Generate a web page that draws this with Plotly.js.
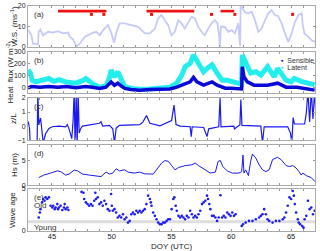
<!DOCTYPE html>
<html><head><meta charset="utf-8">
<script src="https://cdn.plot.ly/plotly-3.0.1.min.js"></script>
<style>html,body{margin:0;padding:0;background:#fff}#c{width:320px;height:251px}</style>
</head><body><div id="c"></div>
<script>
// ---- (a) wind speed ----
var wsDay = [43.06,43.28,43.42,43.61,43.84,43.89,44.03,44.26,44.67,45.09,
             45.51,45.93,46.35,46.49,46.77,47.05,47.33,47.74,48.30,48.72,
             49.00,49.28,49.70,49.98,50.20,50.40,50.67,51.09,51.65,52.21,
             52.77,53.19,53.61,53.88,54.16,54.44,54.72,55.00,55.28,55.56,
             55.84,56.12,56.40,56.68,56.96,57.24,57.51,57.79,58.07,58.35,
             58.63,58.85,58.99,59.05,59.13,59.47,59.75,60.03,60.30,60.58,
             60.70,60.74,60.78,60.86,61.14,61.42,61.70,61.98,62.26,62.54,
             62.82,63.10,63.37,63.65,63.93,64.21,64.49,64.77,65.05,65.33,
             65.61,65.89,65.97,66.11,66.44,66.72,67.00];
var wsVal = [8.2,5.7,1.6,1.3,1.3,7.4,8.5,5.7,7.4,7.0,
             7.7,6.6,7.0,5.0,3.6,0.3,1.6,4.9,6.6,7.4,
             5.7,8.2,10.7,6.6,2.0,7.4,11.5,11.5,10.7,9.8,
             6.6,6.6,9.0,13.9,15.6,13.1,10.7,5.7,7.4,13.1,
             11.5,9.0,12.3,14.8,13.9,9.8,7.4,5.7,9.0,11.5,
             13.1,11.5,5.0,0.0,10.0,9.8,7.4,8.2,6.6,11.5,
             3.0,0.5,19.7,19.7,17.0,16.4,17.2,13.1,7.4,9.0,
             13.1,16.4,18.0,15.6,15.0,11.5,6.6,2.5,6.6,12.3,
             15.6,16.4,11.0,6.6,4.9,3.3,2.5];
// periods (red bars) and single red markers
var barStart = [45.51, 52.91, 59.10];
var barEnd   = [49.56, 56.90, 60.25];
var barLevel = 17.5;
var dotDay = [48.30, 49.34, 53.33, 58.35, 60.30, 65.13];
var dotLevel = 15.9;

// ---- (b) heat flux ----
var latDay = [43.0,43.2,43.34,43.62,44.18,44.75,45.17,45.59,46.15,47.0,
              47.56,47.84,48.40,48.97,49.53,49.81,49.95,50.23,50.51,50.80,
              51.08,51.64,52.34,53.19,54.03,54.87,55.44,55.86,56.14,56.56,
              56.84,57.13,57.41,57.68,57.97,58.39,58.81,59.24,59.66,60.22,
              60.64,60.86,60.92,61.06,61.34,61.62,62.05,62.47,63.03,63.31,
              63.59,63.88,64.16,64.58,65.0,65.28,65.84,66.41,66.97];
var latVal = [146,120,60,45,60,74,50,65,45,34,
              55,74,30,0,10,80,146,88,131,60,
              5,-10,-18,-15,-5,0,34,103,174,203,
              274,217,174,131,160,190,120,60,60,45,
              34,25,274,246,188,120,131,103,174,131,
              88,160,120,60,45,74,50,34,20];
var senDay = [43.0,43.3,44.0,44.75,45.5,46.2,47.0,47.8,48.4,49.0,
              49.5,49.95,50.23,50.51,50.8,51.1,51.6,52.3,53.2,54.03,
              54.87,55.44,55.86,56.56,56.84,57.13,57.68,58.39,58.81,59.5,
              60.0,60.86,60.92,61.06,61.34,61.9,63.03,63.88,64.58,65.5,
              66.97];
var senVal = [-5,5,0,5,0,5,-5,5,0,-10,
              0,45,17,34,10,-10,-20,-25,-20,-17,
              -15,0,17,45,83,45,17,45,17,-9,
              -10,-15,174,88,45,17,17,34,0,0,
              -25];

// ---- (c) z/L ----
var zlDay = [42.92,43.0,43.12,43.2,43.62,43.76,43.82,43.9,44.05,44.13,
             44.27,44.47,44.75,45.03,45.6,46.15,46.29,46.43,46.58,46.66,
             46.71,46.77,46.86,46.94,47.03,47.11,47.19,47.28,47.42,47.56,
             48.97,49.11,49.24,49.81,50.09,50.23,50.37,50.65,52.34,52.62,
             52.91,53.04,53.19,54.03,55.01,55.21,55.38,55.72,56.56,56.65,
             56.73,57.69,57.97,58.11,58.95,59.06,59.14,60.22,60.27,60.72,
             60.8,60.89,62.47,62.61,62.75,64.72,64.95,65.06,65.17,65.28,
             66.13,66.27,66.41,66.55,66.69,66.83,66.97,67.1];
var zlVal = [0.13,0.33,-0.05,-1.5,-1.5,-1.5,2.5,0.08,0.58,-0.17,
             -1.2,-0.55,-0.17,-0.05,0.0,-0.05,0.1,-0.2,-0.6,-0.9,
             -0.3,0.35,2.5,-1.5,2.5,-1.5,2.5,-0.5,-0.15,0.0,
             0.2,0.3,0.0,0.05,-0.2,-1.2,-0.15,0.05,0.1,0.3,
             0.75,0.5,0.2,0.02,0.4,1.5,0.1,0.0,-0.05,-0.75,
             -0.05,-0.1,-0.75,-0.2,-0.05,2.0,-0.05,0.0,-0.2,0.1,
             1.9,0.05,0.0,-1.2,-0.05,-0.05,-0.5,-1.2,0.6,0.15,
             0.15,0.9,2.5,0.3,2.5,0.5,2.5,0.3];

// ---- (d) Hs ----
var hsDay = [43.9,44.32,44.89,45.45,45.73,46.15,46.43,46.86,47.14,47.56,
             48.12,48.68,49.11,49.53,49.81,50.09,50.37,50.65,51.08,51.36,
             51.92,52.34,52.76,53.47,53.75,54.17,54.45,54.73,55.01,55.3,
             55.58,56.14,56.7,56.98,57.26,57.83,58.25,58.67,58.9,59.09,
             59.29,59.66,60.08,60.64,60.87,60.98,61.06,61.2,61.43,61.62,
             61.77,62.05,62.33,62.61,62.89,63.17,63.45,63.87,64.16,64.58,
             64.86,65.14,65.42,65.7,65.84,65.98,66.27,66.69,67.0];
var hsVal = [1.5,2.0,2.4,2.85,2.7,2.0,2.2,3.0,2.85,2.2,
             2.0,1.8,1.7,2.6,2.2,2.4,3.25,2.85,3.05,2.6,
             2.4,2.6,2.25,2.2,3.05,4.4,4.9,4.75,3.9,3.05,
             3.5,3.9,4.05,4.4,3.9,3.05,2.4,2.6,4.75,4.9,
             3.7,2.85,2.4,2.4,2.7,6.0,2.4,3.05,1.9,4.75,
             6.2,5.4,4.05,3.05,2.7,3.05,5.1,5.55,5.1,3.9,
             3.7,3.9,3.4,2.6,2.0,2.4,1.9,1.5,0.7];

// ---- (e) wave age ----
var waDay = [43.9,43.99,44.04,44.18,44.27,44.38,44.47,44.61,44.75,44.89,
             45.03,45.11,45.23,45.31,45.45,45.51,45.59,45.73,45.87,46.01,
             46.07,46.15,46.29,46.38,47.48,47.64,47.7,47.84,47.98,48.12,
             48.26,48.4,48.54,48.63,48.68,48.83,48.97,49.11,49.25,49.39,
             49.53,49.67,49.81,49.95,50.01,50.09,50.23,50.37,50.51,50.65,
             50.79,50.94,51.08,51.22,51.36,51.5,51.64,51.78,51.92,52.06,
             52.2,52.34,52.48,52.62,52.76,52.9,53.05,53.19,53.27,53.33,
             53.47,53.61,53.75,53.89,54.03,54.17,54.31,54.45,54.59,54.73,
             54.87,55.01,55.15,55.24,55.35,55.44,55.58,55.72,55.86,56.0,
             56.14,56.28,56.42,56.56,56.7,56.84,56.98,57.12,57.26,57.4,
             57.55,57.69,57.83,57.97,58.05,58.16,58.25,58.39,58.53,58.67,
             58.81,58.95,59.09,59.23,59.37,59.51,59.66,59.8,59.94,60.08,
             60.22,60.36,60.87,60.98,61.2,61.48,61.77,62.05,62.33,62.47,
             62.61,62.75,62.89,63.03,63.17,63.45,63.73,64.02,64.3,64.44,
             64.58,64.72,64.86,65.0,65.14,65.23,65.31,65.42,65.56,65.64,
             65.76,65.93,66.04,66.13,66.27,66.41,66.55,66.69,66.83,66.97];
var waVal = [1.6,2.2,2.6,3.4,3.8,3.6,4.0,3.8,4.0,3.0,
             2.8,3.0,2.6,2.8,3.2,2.6,2.8,3.0,2.5,2.8,
             3.2,2.6,2.8,2.5,4.65,4.55,3.8,3.4,3.2,3.0,
             3.2,3.0,3.6,4.55,3.8,4.0,3.2,3.4,3.0,3.6,
             3.2,2.6,2.4,4.4,3.0,2.4,2.6,2.2,1.6,1.8,
             1.6,2.0,1.4,1.6,1.0,1.2,2.0,2.2,2.0,2.4,
             2.2,2.4,2.2,2.4,2.6,3.2,4.2,3.8,3.4,3.0,
             2.2,1.8,1.4,1.0,0.8,0.8,1.0,1.0,1.2,1.4,
             1.4,2.6,3.8,4.0,3.0,2.4,1.8,1.6,1.8,1.6,
             1.4,1.8,1.6,2.4,2.0,1.6,1.8,1.6,2.0,2.4,
             3.2,3.4,3.6,4.2,3.8,3.2,2.6,1.8,1.8,1.6,
             1.2,1.6,4.25,1.6,1.8,1.6,2.2,2.0,1.8,2.2,
             1.8,2.0,0.6,0.8,1.0,1.2,1.2,1.4,1.6,1.8,
             2.0,2.6,2.0,1.4,1.2,1.0,1.2,1.2,1.4,1.6,
             2.2,3.0,4.0,3.8,4.75,4.2,3.2,2.2,1.4,1.0,
             0.8,0.6,0.4,1.4,1.8,3.6,2.6,2.8,2.0,2.4];
var waveAgeThreshold = 1.1;

var yTitles = ['W.S. (ms<sup>-1</sup>)', 'Heat  flux (W m<sup>-2</sup>)', 'z/L', 'Hs (m)', 'Wave age'];
var panelLabels = ['(a)','(b)','(c)','(d)','(e)'];

var xTickVals = [], xTickText = [];
for (var d = 43; d <= 67; d++) { xTickVals.push(d); xTickText.push(d % 5 === 0 ? String(d) : ''); }

var bx = [], by = [];
for (var i = 0; i < barStart.length; i++) { bx.push(barStart[i], barEnd[i], null); by.push(barLevel, barLevel, null); }
var dy = dotDay.map(function(){ return dotLevel; });

var blue = '#1a1af5';
var traces = [
  {x: wsDay, y: wsVal, xaxis:'x', yaxis:'y', mode:'lines', line:{color:'rgba(140,150,245,0.5)', width:1.8}},
  {x: bx, y: by, xaxis:'x', yaxis:'y', mode:'lines', line:{color:'#ee1111', width:2.6}},
  {x: dotDay, y: dy, xaxis:'x', yaxis:'y', mode:'markers', marker:{color:'#ee1111', size:3, symbol:'square'}},
  {x: latDay, y: latVal, xaxis:'x2', yaxis:'y2', mode:'lines', line:{color:'#22eeee', width:5}},
  {x: senDay, y: senVal, xaxis:'x2', yaxis:'y2', mode:'lines', line:{color:'#0a0ad8', width:3.5}},
  {x: zlDay, y: zlVal, xaxis:'x3', yaxis:'y3', mode:'lines', line:{color:blue, width:1.2}},
  {x: hsDay, y: hsVal, xaxis:'x4', yaxis:'y4', mode:'lines', line:{color:blue, width:1}},
  {x: waDay, y: waVal, xaxis:'x5', yaxis:'y5', mode:'markers', marker:{color:blue, size:2.6}}
];

function xa(anchor, labels) {
  return {domain:[0,1], anchor:anchor, range:[43,67], tickvals:xTickVals, ticktext:xTickText,
    showticklabels:labels, ticks:'inside', ticklen:2, tickcolor:'#999', showline:true, linecolor:'#aaa',
    linewidth:1, mirror:'allticks', showgrid:false, zeroline:false, tickfont:{size:7.5}, ticklabelstandoff:-2};
}
function ya(anchor, dom, rng, tv) {
  return {domain:dom, anchor:anchor, range:rng, tickvals:tv, ticks:'inside', ticklen:2, tickcolor:'#999',
    showline:true, linecolor:'#aaa', linewidth:1, mirror:'allticks', showgrid:false, zeroline:false,
    tickfont:{size:7}};
}
var doms = [[0.818,1.0],[0.613,0.796],[0.404,0.591],[0.204,0.382],[0,0.187]];
var titleX = [14, 10, 13, 14, 13]; // px from left, centres of rotated titles

var layout = {
  width:320, height:251, margin:{l:28, r:5, t:6, b:20}, showlegend:false,
  paper_bgcolor:'#fff', plot_bgcolor:'#fff',
  font:{family:'Liberation Sans, Arial, sans-serif', size:8, color:'#222'},
  xaxis: xa('y', false), xaxis2: xa('y2', false), xaxis3: xa('y3', false), xaxis4: xa('y4', false), xaxis5: xa('y5', true),
  yaxis:  ya('x',  doms[0], [0,20],    [0,10,20]),
  yaxis2: ya('x2', doms[1], [-50,300], [0,100,200,300]),
  yaxis3: ya('x3', doms[2], [-1,2],    [-1,0,1,2]),
  yaxis4: ya('x4', doms[3], [0,8],     [0,5]),
  yaxis5: ya('x5', doms[4], [0,5],     [0,5]),
  shapes:[{type:'line', xref:'x5 domain', yref:'y5', x0:0, x1:1, y0:waveAgeThreshold, y1:waveAgeThreshold,
           line:{color:'#dddddd', width:3}, layer:'below'}],
  annotations:[]
};
var axn = ['','2','3','4','5'];
for (var k = 0; k < 5; k++) {
  layout.annotations.push({text:panelLabels[k], xref:'x'+axn[k]+' domain', yref:'y'+axn[k]+' domain', x:0.015, y:0.96,
    xanchor:'left', yanchor:'top', showarrow:false, font:{size:8, color:'#333'}});
  layout.annotations.push({text:yTitles[k], textangle:-90, xref:'paper', yref:'paper',
    x:(titleX[k]-28)/287, y:(doms[k][0]+doms[k][1])/2, xanchor:'center', yanchor:'middle',
    showarrow:false, font:{size:8, color:'#222'}});
}
layout.annotations.push({text:'DOY (UTC)', xref:'paper', yref:'paper', x:0.5, y:-0.07, xanchor:'center', yanchor:'middle', showarrow:false, font:{size:8, color:'#222'}});
layout.annotations.push({text:'Old', xref:'x5 domain', yref:'y5', x:0.015, y:3.0, xanchor:'left', yanchor:'middle', showarrow:false, font:{size:8, color:'#333'}});
layout.annotations.push({text:'Young', xref:'x5 domain', yref:'y5', x:0.015, y:0.45, xanchor:'left', yanchor:'middle', showarrow:false, font:{size:8, color:'#333'}});
layout.annotations.push({text:'<span style="color:#0a0ad8">▪</span>  Sensible', xref:'x2 domain', yref:'y2 domain', x:0.875, y:0.8, xanchor:'left', yanchor:'middle', showarrow:false, font:{size:7, color:'#333'}});
layout.annotations.push({text:'<span style="color:#22eeee">▪</span>  Latent', xref:'x2 domain', yref:'y2 domain', x:0.875, y:0.62, xanchor:'left', yanchor:'middle', showarrow:false, font:{size:7, color:'#333'}});

Plotly.newPlot('c', traces, layout, {staticPlot:true, displayModeBar:false});
</script></body></html>
